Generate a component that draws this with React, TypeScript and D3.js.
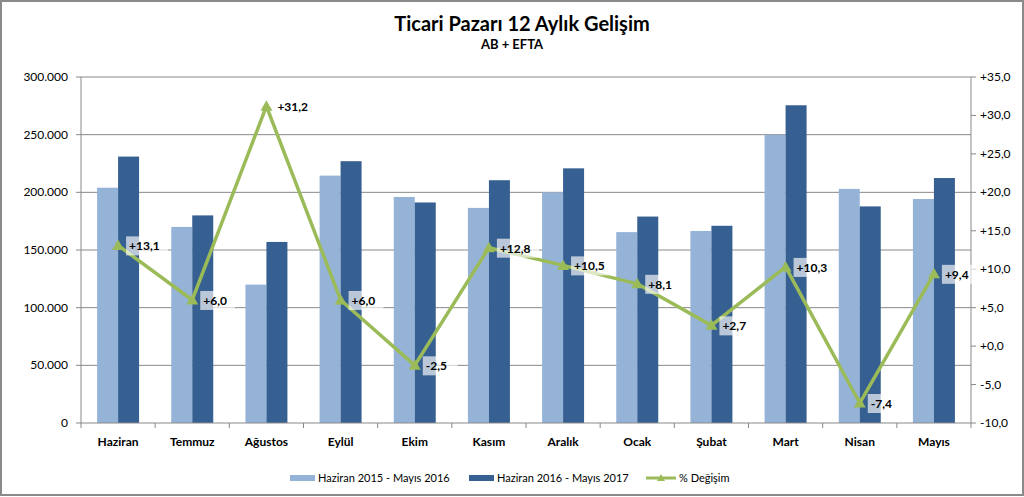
import React from "react";
import * as d3 from "d3";

const categories = ["Haziran", "Temmuz", "Ağustos", "Eylül", "Ekim", "Kasım", "Aralık", "Ocak", "Şubat", "Mart", "Nisan", "Mayıs"];
const series2016 = [204000, 170000, 120000, 214500, 196000, 186500, 200000, 165500, 166500, 250000, 203000, 194200];
const series2017 = [231000, 180000, 157000, 227000, 191200, 210500, 220800, 179000, 171000, 275500, 187800, 212400];
const pctChange = [13.1, 6.0, 31.2, 6.0, -2.5, 12.8, 10.5, 8.1, 2.7, 10.3, -7.4, 9.4];
const leftTicks = [0, 50000, 100000, 150000, 200000, 250000, 300000];
const rightTicks = [-10, -5, 0, 5, 10, 15, 20, 25, 30, 35];
const legendLabels = ["Haziran 2015 - Mayıs 2016", "Haziran 2016 - Mayıs 2017", "% Değişim"];

const W = 1024, H = 497;
const L = 81, R = 971, T = 77, B = 423;
const FONT = "Lato, 'Open Sans', sans-serif";
const C1 = "#95b3d7", C2 = "#376092", CL = "#9bbb59", GRID = "#898989";

const fmtLeft = (v: number) => (v === 0 ? "0" : d3.format(",")(v).replace(/,/g, "."));
const fmtPct = (v: number) => (v >= 0 ? "+" : "-") + Math.abs(v).toFixed(1).replace(".", ",");

function tri(x: number, y: number, s = 6) {
  return `M${x},${y - s} L${x + s},${y + s * 0.75} L${x - s},${y + s * 0.75} Z`;
}

export default function App() {
  const x = d3.scaleBand<string>().domain(categories).range([L, R]);
  const bw = x.bandwidth();
  const barW = 21;
  const yL = d3.scaleLinear().domain([0, 300000]).range([B, T]);
  const yR = d3.scaleLinear().domain([-10, 35]).range([B, T]);
  const cx = (c: string) => (x(c) as number) + bw / 2;
  const line = d3.line<number>().x((_, i) => cx(categories[i])).y((d) => yR(d));

  return (
    <svg width={W} height={H} style={{ position: "absolute", left: 0, top: 0, background: "#fff" }} fontFamily={FONT}>
      <rect x={1} y={1} width={W - 2} height={H - 3} fill="#fff" stroke="#8a8a8a" strokeWidth={2} />
      <text x={522} y={31} textAnchor="middle" fontSize={20} fontWeight="bold" fill="#000">Ticari Pazarı 12 Aylık Gelişim</text>
      <text x={512} y={49} textAnchor="middle" fontSize={13} fontWeight="bold" fill="#000">AB + EFTA</text>

      {leftTicks.map((t) => (
        <g key={"g" + t}>
          <line x1={L - 5} x2={t === 0 ? L : R} y1={yL(t)} y2={yL(t)} stroke={GRID} strokeWidth={1} />
          <text x={L - 13} y={yL(t) + 4} textAnchor="end" fontSize={12} fill="#000">{fmtLeft(t)}</text>
        </g>
      ))}
      {rightTicks.map((t) => (
        <g key={"r" + t}>
          <line x1={R} x2={R + 5} y1={yR(t)} y2={yR(t)} stroke={GRID} strokeWidth={1} />
          <text x={R + 9} y={yR(t) + 4} textAnchor="start" fontSize={12} fill="#000">{fmtPct(t)}</text>
        </g>
      ))}

      {categories.map((c, i) => {
        const x0 = (x(c) as number) + (bw - 2 * barW) / 2;
        return (
          <g key={c}>
            <rect x={x0} y={yL(series2016[i])} width={barW} height={B - yL(series2016[i])} fill={C1} />
            <rect x={x0 + barW} y={yL(series2017[i])} width={barW} height={B - yL(series2017[i])} fill={C2} />
          </g>
        );
      })}

      <line x1={L} x2={L} y1={T} y2={B} stroke={GRID} />
      <line x1={R} x2={R} y1={T} y2={B} stroke={GRID} />
      <line x1={L} x2={R} y1={B} y2={B} stroke={GRID} />
      {categories.map((c, i) => (
        <line key={"xt" + i} x1={(x(c) as number)} x2={(x(c) as number)} y1={B} y2={B + 5} stroke={GRID} />
      ))}
      <line x1={R} x2={R} y1={B} y2={B + 5} stroke={GRID} />
      {categories.map((c) => (
        <text key={"xl" + c} x={cx(c)} y={446} textAnchor="middle" fontSize={12} fontWeight="bold" fill="#000">{c}</text>
      ))}

      <path d={line(pctChange) as string} fill="none" stroke={CL} strokeWidth={3.5} strokeLinejoin="round" />
      {pctChange.map((v, i) => (
        <path key={"m" + i} d={tri(cx(categories[i]), yR(v))} fill={CL} />
      ))}
      {pctChange.map((v, i) => {
        const px = cx(categories[i]);
        const py = yR(v);
        const label = fmtPct(v);
        const tw = label.length * 7.2;
        return (
          <g key={"lb" + i}>
            <rect x={px + 8} y={py - 9} width={tw + 6} height={19} fill="#fff" fillOpacity={0.65} />
            <text x={px + 11} y={py + 5} fontSize={12} fontWeight="bold" fill="#000">{label}</text>
          </g>
        );
      })}

      <rect x={290} y={475} width={25} height={6} fill={C1} />
      <text x={318} y={482} fontSize={11} fill="#000">{legendLabels[0]}</text>
      <rect x={469} y={475} width={25} height={6} fill={C2} />
      <text x={497} y={482} fontSize={11} fill="#000">{legendLabels[1]}</text>
      <line x1={646} x2={676} y1={478} y2={478} stroke={CL} strokeWidth={3} />
      <path d={tri(661, 478, 4)} fill={CL} />
      <text x={679} y={482} fontSize={11} fill="#000">{legendLabels[2]}</text>
    </svg>
  );
}
